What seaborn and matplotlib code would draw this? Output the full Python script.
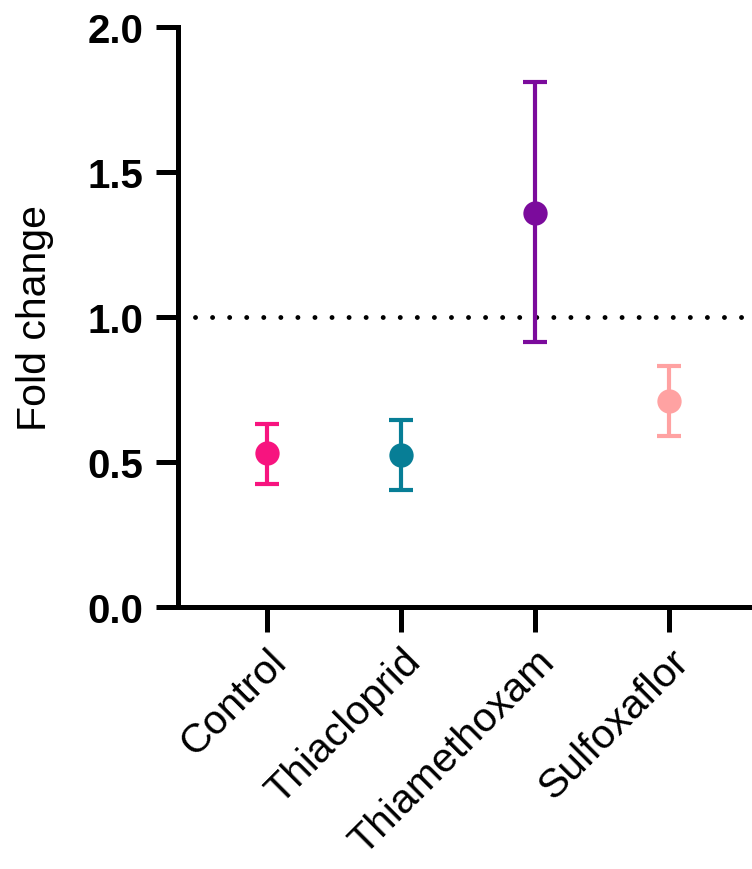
import numpy as np
import pandas as pd
import matplotlib
matplotlib.use("Agg")
import matplotlib.pyplot as plt
import matplotlib.transforms as mtrans
import seaborn as sns

# data
groups = ["Control", "Thiacloprid", "Thiamethoxam", "Sulfoxaflor"]
means = [0.53, 0.525, 1.36, 0.71]
err_low = [0.425, 0.405, 0.915, 0.59]
err_high = [0.63, 0.645, 1.81, 0.83]
colors = ["#F7147F", "#077E96", "#7B0B9C", "#FFA2A2"]
yticks = [0.0, 0.5, 1.0, 1.5, 2.0]

df = pd.DataFrame({"group": groups, "fold": means})

sns.set_style("ticks", {"axes.edgecolor": "black", "text.color": "black",
                        "axes.labelcolor": "black", "xtick.color": "black",
                        "ytick.color": "black"})
plt.rcParams["font.family"] = ["Liberation Sans", "DejaVu Sans"]

fig = plt.figure(figsize=(7.52, 8.70), dpi=100)
ax = fig.add_axes([0.2367, 0.3011, 0.7606, 0.6667])

# reference line at 1
ax.axhline(1.0, xmin=0.03, xmax=1.0, color="black", lw=3.5,
           ls=(0, (0.01, 3.5)), dash_capstyle="round", zorder=1)

# error bars (mean with range)
for i, g in enumerate(groups):
    ax.errorbar(i, means[i],
                yerr=[[means[i] - err_low[i]], [err_high[i] - means[i]]],
                fmt="none", ecolor=colors[i], elinewidth=3.0,
                capsize=8.5, capthick=3.0, zorder=2)

sns.stripplot(data=df, x="group", y="fold", hue="group", palette=colors,
              jitter=False, size=17.5, linewidth=0, legend=False, ax=ax, zorder=3)

ax.set_xlim(-0.664, 3.604)
ax.set_ylim(0, 2.0)
ax.set_yticks(yticks)
ax.set_yticklabels([f"{v:.1f}" for v in yticks], fontsize=29, fontweight="bold")
ax.set_xticks(range(len(groups)))
ax.set_xticklabels(groups, fontsize=29.5, rotation=45, ha="right", va="top",
                   rotation_mode="anchor")
shift = mtrans.ScaledTranslation(5 / 100, 0, fig.dpi_scale_trans)
for lab in ax.get_xticklabels():
    lab.set_transform(lab.get_transform() + shift)

ax.set_xlabel("")
ax.set_ylabel("Fold change", fontsize=29.5, labelpad=24)

sns.despine(ax=ax)
for side in ["left", "bottom"]:
    ax.spines[side].set_linewidth(3.6)
    ax.spines[side].set_color("black")
    ax.spines[side].set_capstyle("projecting")
ax.tick_params(axis="y", length=16, width=3.6, pad=9, colors="black")
ax.tick_params(axis="x", length=18, width=3.6, pad=7, colors="black")

fig.savefig("out.png", dpi=100)
